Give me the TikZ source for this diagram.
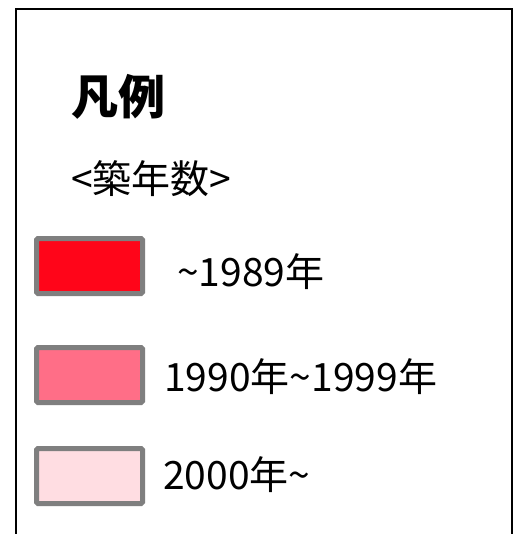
\documentclass[tikz,border=0pt]{standalone}
\usepackage{fontspec}
\setmainfont{Noto Sans CJK JP}
\definecolor{swred}{HTML}{FF0519}
\definecolor{swpink}{HTML}{FF6E87}
\definecolor{swlight}{HTML}{FFDDE2}
\definecolor{swgray}{HTML}{7F7F7F}
\begin{document}
\begin{tikzpicture}[x=1pt,y=-1pt,
  swatch/.style={draw=swgray,line width=5pt,rounded corners=1.5pt,minimum width=106pt,minimum height=55pt,inner sep=0pt,anchor=center},
  lbl/.style={anchor=west,inner sep=0pt,font=\fontsize{39}{44}\selectfont}]
\useasboundingbox (0,0) rectangle (524,534);
\fill[white] (0,0) rectangle (524,534);
\draw[line width=2pt] (15.5,540) -- (15.5,9) -- (511.5,9) -- (511.5,540);
\node[anchor=west,inner sep=0pt,font=\fontsize{47}{52}\selectfont\bfseries] (title) at (71,97) {凡例};
\node[anchor=west,inner sep=0pt,font=\fontsize{39}{44}\selectfont] (sub) at (71,179) {<築年数>};
\node[swatch,fill=swred] (s1) at (89.5,266) {};
\node[swatch,fill=swpink] (s2) at (89.5,375) {};
\node[swatch,fill=swlight] (s3) at (89.5,476) {};
\node[lbl] (l1) at (177,272) {\textasciitilde1989年};
\node[lbl] (l2) at (164,377) {1990年\textasciitilde1999年};
\node[lbl] (l3) at (163,475) {2000年\textasciitilde};
\end{tikzpicture}
\end{document}
